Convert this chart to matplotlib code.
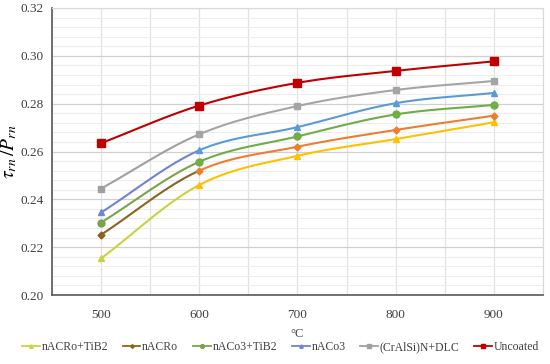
import numpy as np
import matplotlib.pyplot as plt
from matplotlib.ticker import MultipleLocator

plt.rcParams['font.family'] = ['Liberation Serif', 'DejaVu Serif']
plt.rcParams['mathtext.fontset'] = 'stix'

temps = [500, 600, 700, 800, 900]
series_names = ['nACRo+TiB2', 'nACRo', 'nACo3+TiB2', 'nACo3', '(CrAlSi)N+DLC', 'Uncoated']
nacro_tib2 = [0.2153, 0.2460, 0.2582, 0.2652, 0.2722]
nacro = [0.2252, 0.2520, 0.2620, 0.2690, 0.2750]
naco3_tib2 = [0.2303, 0.2557, 0.2663, 0.2755, 0.2795]
naco3 = [0.2345, 0.2605, 0.2702, 0.2802, 0.2845]
cralsin_dlc = [0.2445, 0.2672, 0.2790, 0.2857, 0.2895]
uncoated = [0.2635, 0.2792, 0.2887, 0.2937, 0.2977]

# colours of the later segments and of the first (500-600) segment
colors = ['#FFC000', '#ED7D31', '#70AD47', '#5B9BD5', '#A5A5A5', '#C00000']
first_colors = ['#C8D43C', '#8A6420', '#7CA24C', '#7383CC', '#A0A0A0', '#C00000']
markers = ['^', 'D', 'o', '^', 's', 's']
msizes = [4.5, 3.5, 5, 4.5, 5, 5.5]


def smooth(x, y, n=30):
    # catmull-rom curve through the points, like an excel smoothed line
    x = np.asarray(x, float)
    y = np.asarray(y, float)
    px = np.concatenate([[2 * x[0] - x[1]], x, [2 * x[-1] - x[-2]]])
    py = np.concatenate([[2 * y[0] - y[1]], y, [2 * y[-1] - y[-2]]])
    segs = []
    t = np.linspace(0, 1, n)
    for i in range(1, len(px) - 2):
        sx = []
        for p in (px, py):
            p0, p1, p2, p3 = p[i - 1], p[i], p[i + 1], p[i + 2]
            sx.append(0.5 * (2 * p1 + (-p0 + p2) * t + (2 * p0 - 5 * p1 + 4 * p2 - p3) * t ** 2
                             + (-p0 + 3 * p1 - 3 * p2 + p3) * t ** 3))
        segs.append(sx)
    return segs


data = [nacro_tib2, nacro, naco3_tib2, naco3, cralsin_dlc, uncoated]

fig = plt.figure(figsize=(5.5, 3.64), dpi=100)
ax = fig.add_axes([52 / 550, 1 - 295 / 364, (543 - 52) / 550, (295 - 8) / 364])

for i, ys in enumerate(data):
    segs = smooth(temps, ys)
    for j, (sx, sy) in enumerate(segs):
        c = first_colors[i] if j == 0 else colors[i]
        ax.plot(sx, sy, color=c, lw=1.5, zorder=3)
    for j, (xv, yv) in enumerate(zip(temps, ys)):
        c = first_colors[i] if j == 0 else colors[i]
        ax.plot(xv, yv, marker=markers[i], color=c, ms=msizes[i], ls='none', zorder=4)
    ax.plot([], [], color=first_colors[i], lw=1.3, marker=markers[i], ms=msizes[i] * 0.55,
            label=series_names[i])

ax.set_xlim(450, 950)
ax.set_ylim(0.20, 0.32)
ax.set_xticks(temps)
ax.xaxis.set_minor_locator(MultipleLocator(50))
ax.yaxis.set_major_locator(MultipleLocator(0.02))
ax.yaxis.set_minor_locator(MultipleLocator(0.004))
ax.set_yticklabels([f'{v:.2f}' for v in ax.get_yticks()])
ax.grid(which='major', axis='y', color='#D0D0D0', lw=0.9)
ax.grid(which='minor', axis='y', color='#EDEDED', lw=0.8)
ax.grid(which='both', axis='x', color='#E2E2E2', lw=0.9)
ax.set_axisbelow(True)
ax.tick_params(which='both', length=0, labelsize=9.5, colors='#404040')
ax.tick_params(axis='x', pad=10)
ax.tick_params(axis='y', pad=6)
for s in ['left', 'bottom']:
    ax.spines[s].set_color('#595959')
    ax.spines[s].set_linewidth(1.2)
for s in ['top', 'right']:
    ax.spines[s].set_color('#D9D9D9')

ax.set_ylabel(r'$\tau_{rn}\,/P_{rn}$', fontsize=14, labelpad=1)
ax.set_xlabel('°C', fontsize=9, color='#404040', labelpad=5)

leg = fig.legend(loc='lower center', ncol=6, frameon=False, fontsize=8.5,
                 bbox_to_anchor=(0.51, 0.0), handlelength=1.5, columnspacing=1.25,
                 handletextpad=0.15)
for t in leg.get_texts():
    t.set_color('#404040')

fig.savefig('out.png', dpi=100)
